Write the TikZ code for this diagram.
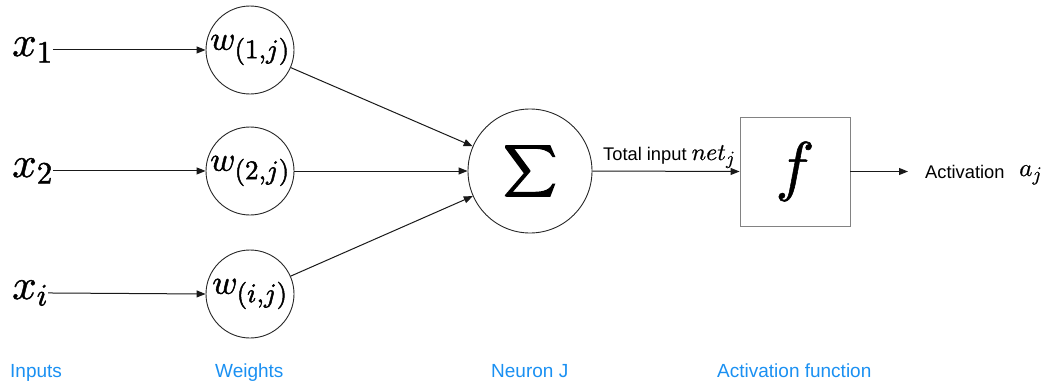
\documentclass[tikz,border=0pt]{standalone}
\usepackage{graphicx}
\usepackage{fontspec}
\newfontfamily\labelsans{Liberation Sans}
% scale the 10pt design of the math fonts to every size
\DeclareFontShape{OML}{cmm}{m}{it}{<->cmmi10}{}
\DeclareFontShape{OT1}{cmr}{m}{n}{<->cmr10}{}
\DeclareFontShape{OMS}{cmsy}{m}{n}{<->cmsy10}{}
\DeclareFontShape{OMX}{cmex}{m}{n}{<->cmex10}{}
\newcommand{\subat}[2]{_{\mbox{\fontsize{#1}{#1}\selectfont$#2$}}}
% slightly heavier glyphs: fill and stroke the outlines with the given width
\newcommand{\heavy}[2][0.45]{\special{pdf:literal q 2 Tr #1 w}#2\special{pdf:literal Q}}
\usetikzlibrary{arrows.meta}
\definecolor{capblue}{RGB}{26,144,242}
\definecolor{boxgray}{RGB}{130,130,130}
\tikzset{
  wire/.style={line width=1pt, draw=black!90, -{Triangle[length=9pt,width=7pt]}},
  weightnode/.style={circle, draw=black!85, line width=0.9pt, minimum size=88pt, inner sep=0pt,
    font=\fontsize{34}{40}\selectfont},
  inputlabel/.style={anchor=base west, inner sep=0pt, font=\fontsize{43}{48}\selectfont},
  caption/.style={anchor=base west, inner sep=0pt, text=capblue, font=\labelsans\fontsize{19}{22}\selectfont},
  plain/.style={anchor=base west, inner sep=0pt, font=\labelsans\fontsize{18.3}{22}\selectfont}
}
\begin{document}
\begin{tikzpicture}[x=1pt,y=-1pt]
\useasboundingbox (0,0) rectangle (1055,388);

% inputs
\node[inputlabel] (x1) at (12,56) {\heavy{$x\subat{31}{1}$}};
\node[inputlabel] (x2) at (12,177) {\heavy{$x\subat{31}{2}$}};
\node[inputlabel] (xi) at (12,299) {\heavy{$x\subat{31}{i}$}};

% weights
\node[weightnode] (w1) at (250,50) {\heavy{$w\subat{27}{(1{,}j)}$}};
\node[weightnode] (w2) at (250,171) {\heavy{$w\subat{27}{(2{,}j)}$}};
\node[weightnode] (w3) at (250,294) {\heavy{$w\subat{27}{(i{,}j)}$}};

% summation neuron
\node[circle, draw=black!85, line width=0.9pt, minimum size=124pt, inner sep=0pt] (sigma) at (530,171)
  {\heavy[0.55]{\resizebox*{52pt}{57pt}{$\displaystyle\sum$}}};

% activation function box
\node[draw=boxgray, line width=0.9pt, minimum width=110pt, minimum height=109pt, inner sep=0pt,
  font=\fontsize{66}{70}\selectfont] (f) at (795,171.5) {\heavy[0.55]{$f$}};

% connectors
\draw[wire] (x1.east) -- (x1.east -| w1.west);
\draw[wire] (x2.east) -- (x2.east -| w2.west);
\draw[wire] (xi.east) -- (w3.west);
\draw[wire] (w1) -- (sigma);
\draw[wire] (w2) -- (sigma);
\draw[wire] (w3) -- (sigma);
\draw[wire] (sigma.east) -- (f.west);
\coordinate (outtip) at (908,171.5);
\draw[wire] (f.east) -- (outtip);

% text on the output side
\node[plain] (total) at (603,160) {Total input {\fontsize{24}{26}\selectfont\heavy[0.15]{$net\subat{19}{j}$}}};
\node[plain] (act) at (925,178) {Activation};
\node[anchor=base west, inner sep=0pt, font=\fontsize{25}{28}\selectfont] (aj) at (1019,176) {\heavy[0.15]{$a\subat{20}{j}$}};

% captions
\node[caption] (capin) at (10,377) {Inputs};
\node[caption] (capw) at (215,377) {Weights};
\node[caption] (capn) at (491,377) {Neuron J};
\node[caption] (capf) at (717,377) {Activation function};
\end{tikzpicture}
\end{document}
